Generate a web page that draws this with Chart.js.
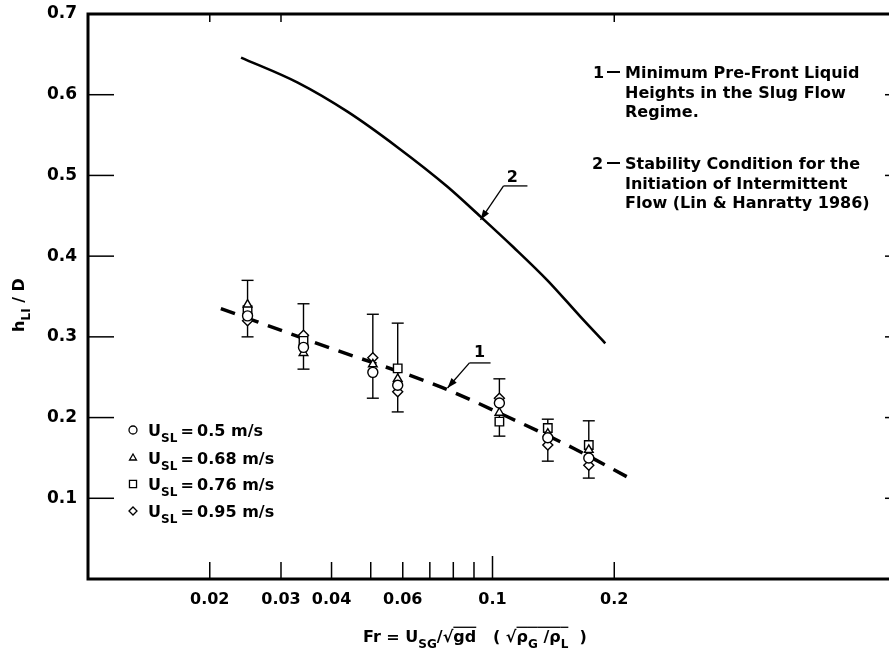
<!DOCTYPE html>
<html>
<head>
<meta charset="utf-8">
<script src="https://cdn.jsdelivr.net/npm/chart.js@4.4.0/dist/chart.umd.min.js"></script>
<style>
html, body { margin: 0; padding: 0; overflow: hidden; background: #fff; }
</style>
</head>
<body>
<canvas id="chart" width="910" height="656"></canvas>
<script>
// measured groups (Fr) and error bar ranges
const groupX = [0.0248, 0.0341, 0.0506, 0.0583, 0.104, 0.137, 0.173];
const errLow = [0.300, 0.260, 0.224, 0.207, 0.177, 0.146, 0.125];
const errHigh = [0.370, 0.341, 0.328, 0.317, 0.248, 0.198, 0.196];

// hLI/D per liquid velocity
const usl050 = [0.326, 0.287, 0.256, 0.240, 0.218, 0.175, 0.150];
const usl068 = [0.340, 0.280, 0.266, 0.248, 0.206, 0.180, 0.160];
const usl076 = [0.333, 0.295, null, 0.261, 0.195, 0.187, 0.166];
const usl095 = [0.320, 0.302, 0.274, 0.232, 0.224, 0.166, 0.141];
const seriesNames = ["0.5", "0.68", "0.76", "0.95"];

// curve 1: minimum pre-front liquid height (dashed)
const curve1X = [0.0213, 0.0398, 0.0744, 0.1089, 0.1585, 0.218];
const curve1Y = [0.335, 0.286, 0.238, 0.201, 0.162, 0.125];
// curve 2: stability condition (Lin & Hanratty 1986)
const curve2X = [0.0239, 0.0330, 0.0438, 0.0582, 0.0774, 0.0934, 0.1127, 0.1367, 0.1649, 0.190];
const curve2Y = [0.646, 0.615, 0.579, 0.535, 0.486, 0.449, 0.411, 0.370, 0.325, 0.292];

const xTickValues = [0.02, 0.03, 0.04, 0.05, 0.06, 0.07, 0.08, 0.09, 0.1, 0.2];
const xTickLabels = [0.02, 0.03, 0.04, 0.06, 0.1, 0.2];
const yTickValues = [0, 0.1, 0.2, 0.3, 0.4, 0.5, 0.6, 0.7];

const FONT = '"DejaVu Sans", sans-serif';
Chart.defaults.font.family = FONT;
Chart.defaults.color = "#000";

const toPoints = (xs, ys) => xs.map((x, i) => ({x: x, y: ys[i]}));

function line(ctx, x1, y1, x2, y2) {
    ctx.beginPath();
    ctx.moveTo(x1, y1);
    ctx.lineTo(x2, y2);
    ctx.stroke();
}

function arrow(ctx, x1, y1, x2, y2) {
    line(ctx, x1, y1, x2, y2);
    const ang = Math.atan2(y2 - y1, x2 - x1);
    ctx.beginPath();
    ctx.moveTo(x2, y2);
    ctx.lineTo(x2 - 10 * Math.cos(ang) + 3.5 * Math.sin(ang), y2 - 10 * Math.sin(ang) - 3.5 * Math.cos(ang));
    ctx.lineTo(x2 - 10 * Math.cos(ang) - 3.5 * Math.sin(ang), y2 - 10 * Math.sin(ang) + 3.5 * Math.cos(ang));
    ctx.closePath();
    ctx.fill();
}

// text with subscripts and overlines (for the square roots)
function richText(ctx, segs, x, y, size, align) {
    const fontOf = s => "bold " + (s.sub ? Math.round(size * 0.75) : size) + "px " + FONT;
    let total = 0;
    segs.forEach(s => { ctx.font = fontOf(s); total += ctx.measureText(s.t).width; });
    let cx = align === "center" ? x - total / 2 : x;
    ctx.textAlign = "left";
    ctx.textBaseline = "alphabetic";
    segs.forEach(s => {
        ctx.font = fontOf(s);
        const w = ctx.measureText(s.t).width;
        ctx.fillText(s.t, cx, y + (s.sub ? size * 0.35 : 0));
        if (s.over) {
            ctx.lineWidth = 1.3;
            line(ctx, cx, y - size * 0.92, cx + w, y - size * 0.92);
        }
        cx += w;
    });
}

const errorBars = {
    id: "errorBars",
    beforeDatasetsDraw(chart) {
        const {ctx, scales: {x, y}} = chart;
        ctx.save();
        ctx.strokeStyle = "#000";
        ctx.lineWidth = 1.4;
        groupX.forEach((g, i) => {
            const px = x.getPixelForValue(g);
            const top = y.getPixelForValue(errHigh[i]);
            const bot = y.getPixelForValue(errLow[i]);
            line(ctx, px, top, px, bot);
            line(ctx, px - 6, top, px + 6, top);
            line(ctx, px - 6, bot, px + 6, bot);
        });
        ctx.restore();
    }
};

const decor = {
    id: "decor",
    afterDraw(chart) {
        const {ctx, chartArea: a, scales: {x, y}} = chart;
        ctx.save();
        ctx.strokeStyle = "#000";
        ctx.fillStyle = "#000";

        // frame
        ctx.lineWidth = 3;
        ctx.strokeRect(a.left, a.top, a.right - a.left, a.bottom - a.top);

        // inward ticks
        ctx.lineWidth = 1.5;
        yTickValues.forEach(v => {
            if (v <= 0 || v >= 0.7) return;
            const py = y.getPixelForValue(v);
            line(ctx, a.left, py, a.left + 26, py);
            line(ctx, a.right - 12, py, a.right, py);
        });
        xTickValues.forEach(v => {
            const px = x.getPixelForValue(v);
            line(ctx, px, a.bottom, px, a.bottom - (v === 0.1 ? 23 : 17));
        });
        [0.02, 0.03, 0.2].forEach(v => {
            const px = x.getPixelForValue(v);
            line(ctx, px, a.top, px, a.top + 8);
        });

        // legend
        const shapes = ["circle", "triangle", "rect", "rectRot"];
        const rows = [430, 458, 484, 511];
        shapes.forEach((s, i) => {
            ctx.fillStyle = "#fff";
            ctx.lineWidth = 1.3;
            Chart.helpers.drawPoint(ctx, {pointStyle: s, radius: s === "rect" ? 5 : 4, borderWidth: 1.3, rotation: 0}, 133, rows[i]);
            ctx.fillStyle = "#000";
            richText(ctx, [{t: "U"}, {t: "SL", sub: true}, {t: "\u2009=\u2009" + seriesNames[i] + " m/s"}], 148, rows[i] + 6, 16, "left");
        });

        // curve labels with leaders
        ctx.lineWidth = 1.3;
        ctx.font = "bold 16px " + FONT;
        ctx.textAlign = "center";
        ctx.textBaseline = "middle";
        ctx.fillText("2", x.getPixelForValue(0.112), y.getPixelForValue(0.497));
        line(ctx, x.getPixelForValue(0.1065), y.getPixelForValue(0.487), x.getPixelForValue(0.122), y.getPixelForValue(0.487));
        arrow(ctx, x.getPixelForValue(0.1065), y.getPixelForValue(0.487), x.getPixelForValue(0.0934), y.getPixelForValue(0.445));
        ctx.fillText("1", x.getPixelForValue(0.0929), y.getPixelForValue(0.280));
        line(ctx, x.getPixelForValue(0.0877), y.getPixelForValue(0.2677), x.getPixelForValue(0.0989), y.getPixelForValue(0.2677));
        arrow(ctx, x.getPixelForValue(0.0877), y.getPixelForValue(0.2677), x.getPixelForValue(0.0774), y.getPixelForValue(0.2367));

        // notes
        ctx.font = "bold 16px " + FONT;
        ctx.textAlign = "left";
        ctx.textBaseline = "alphabetic";
        ctx.lineWidth = 2;
        ctx.fillText("1", 593, 78);
        line(ctx, 607, 72, 620, 72);
        ctx.fillText("Minimum Pre-Front Liquid", 625, 78);
        ctx.fillText("Heights in the Slug Flow", 625, 98);
        ctx.fillText("Regime.", 625, 117);
        ctx.fillText("2", 592, 169);
        line(ctx, 607, 163, 620, 163);
        ctx.fillText("Stability Condition for the", 625, 169);
        ctx.fillText("Initiation of Intermittent", 625, 189);
        ctx.fillText("Flow (Lin & Hanratty 1986)", 625, 208);

        // axis titles
        richText(ctx, [
            {t: "Fr = U"}, {t: "SG", sub: true}, {t: "/\u221A"}, {t: "gd", over: true},
            {t: "   ( \u221A"}, {t: "\u03C1", over: true}, {t: "G", sub: true, over: true},
            {t: " /\u03C1", over: true}, {t: "L", sub: true, over: true}, {t: "  )"}
        ], 363, 642, 16, "left");

        ctx.translate(24, 305);
        ctx.rotate(-Math.PI / 2);
        richText(ctx, [{t: "h"}, {t: "LI", sub: true}, {t: " / D"}], 0, 0, 16, "center");
        ctx.restore();
    }
};

const markerStyle = (label, data, shape, r) => ({
    label: label,
    type: "scatter",
    data: toPoints(groupX, data),
    pointStyle: shape,
    pointRadius: r,
    pointBackgroundColor: "#fff",
    pointBorderColor: "#000",
    pointBorderWidth: 1.4,
    showLine: false,
    order: 1
});

new Chart(document.getElementById("chart"), {
    type: "line",
    data: {
        datasets: [
            {
                label: "2",
                data: toPoints(curve2X, curve2Y),
                borderColor: "#000",
                borderWidth: 2.6,
                pointRadius: 0,
                cubicInterpolationMode: "monotone",
                order: 2
            },
            {
                label: "1",
                data: toPoints(curve1X, curve1Y),
                borderColor: "#000",
                borderWidth: 3.5,
                borderDash: [15, 10],
                pointRadius: 0,
                cubicInterpolationMode: "monotone",
                order: 2
            },
            markerStyle("USL=0.5", usl050, "circle", 5),
            markerStyle("USL=0.68", usl068, "triangle", 5),
            markerStyle("USL=0.76", usl076, "rect", 6),
            markerStyle("USL=0.95", usl095, "rectRot", 5)
        ]
    },
    options: {
        responsive: false,
        animation: false,
        events: [],
        layout: {padding: {left: 0, right: 13, top: 14, bottom: 0}},
        plugins: {legend: {display: false}, tooltip: {enabled: false}},
        scales: {
            x: {
                type: "logarithmic",
                min: 0.01,
                max: 1,
                grid: {display: false, drawTicks: false},
                border: {display: false},
                afterBuildTicks: s => { s.ticks = xTickValues.map(v => ({value: v})); },
                afterFit: s => { s.height = 77; s.paddingLeft = 0; s.paddingRight = 0; },
                ticks: {
                    autoSkip: false,
                    maxRotation: 0,
                    padding: 11,
                    font: {size: 16, weight: "bold"},
                    callback: v => xTickLabels.includes(v) ? String(v) : ""
                }
            },
            y: {
                min: 0,
                max: 0.7,
                grid: {display: false, drawTicks: false},
                border: {display: false},
                afterBuildTicks: s => { s.ticks = yTickValues.map(v => ({value: v})); },
                afterFit: s => { s.width = 88; s.paddingTop = 0; s.paddingBottom = 0; },
                ticks: {
                    padding: 11,
                    font: {size: 17, weight: "bold"},
                    callback: v => v === 0 ? "" : v.toFixed(1)
                }
            }
        }
    },
    plugins: [errorBars, decor]
});
</script>
</body>
</html>
